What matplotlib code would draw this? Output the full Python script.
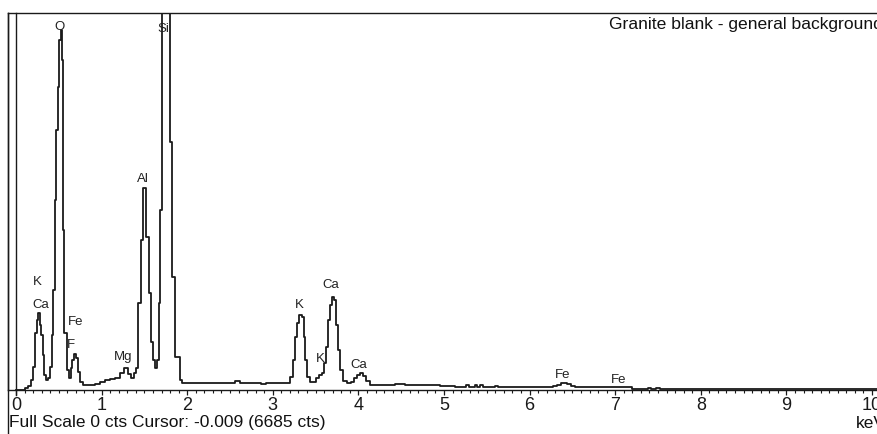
import matplotlib

matplotlib.use("Agg")
import matplotlib.pyplot as plt
from matplotlib import font_manager
from matplotlib.lines import Line2D
from matplotlib.ticker import MultipleLocator

# spectrum (keV, counts in screen units; Si runs off-scale)
energy = [
    0.00, 0.105, 0.14, 0.175, 0.199, 0.222, 0.245, 0.257, 0.275, 0.292, 0.31, 0.327,
    0.35, 0.374, 0.397, 0.415, 0.432, 0.456, 0.473, 0.49, 0.502, 0.52, 0.537, 0.549,
    0.56, 0.578, 0.596, 0.62, 0.637, 0.654, 0.678, 0.70, 0.724, 0.748, 0.78, 0.86,
    0.92, 0.98, 1.04, 1.10, 1.16, 1.215, 1.26, 1.31, 1.34, 1.38, 1.402, 1.425, 1.46,
    1.484, 1.519, 1.53, 1.554, 1.577, 1.60, 1.624, 1.647, 1.67, 1.682, 1.706, 1.73,
    1.77, 1.80, 1.822, 1.857, 1.916, 1.94, 2.50, 2.56, 2.62, 2.80, 2.86, 2.92, 3.14,
    3.20, 3.236, 3.26, 3.283, 3.306, 3.341, 3.36, 3.376, 3.40, 3.435, 3.47, 3.505,
    3.54, 3.575, 3.60, 3.62, 3.645, 3.668, 3.69, 3.715, 3.738, 3.76, 3.785, 3.82,
    3.867, 3.914, 3.95, 3.98, 4.02, 4.05, 4.09, 4.135, 4.43, 4.54, 4.95, 5.13, 5.26,
    5.29, 5.36, 5.39, 5.42, 5.45, 5.60, 5.63, 6.27, 6.32, 6.37, 6.44, 6.48, 6.53,
    7.20, 7.38, 7.42, 7.48, 7.52, 10.30,
]
counts = [
    0, 2, 4, 10, 23, 57, 70, 77, 65, 55, 35, 15,
    10, 12, 23, 55, 100, 190, 260, 303, 350, 360, 330, 160,
    57, 57, 20, 12, 22, 30, 36, 32, 18, 8, 5, 5,
    6, 8, 10, 11, 12, 17, 22, 16, 12, 17, 22, 87, 150,
    202, 153, 153, 97, 48, 30, 22, 30, 87, 180, 450, 900,
    700, 248, 113, 33, 10, 7, 7, 9, 7, 7, 6, 7, 7,
    13, 30, 53, 67, 75, 73, 53, 30, 13, 8, 8, 12,
    15, 17, 27, 43, 70, 85, 93, 90, 65, 40, 20, 9,
    7, 8, 12, 15, 17, 14, 9, 5, 6, 5, 4, 3, 5,
    3, 5, 3, 5, 3, 4, 3, 4, 5, 7, 6, 4, 3,
    1, 2, 1, 2, 1, 1,
]

# peak labels (text, keV, counts at the label baseline)
label_text = ["O", "Si", "Al", "K", "Ca", "Fe", "F", "Mg", "K", "Ca", "K", "Ca", "Fe", "Fe"]
label_energy = [0.514, 1.717, 1.48, 0.245, 0.29, 0.70, 0.645, 1.25, 3.306, 3.68, 3.56, 4.007, 6.39, 7.04]
label_counts = [360, 358, 208, 105, 82, 65, 42, 30, 82, 102, 28, 22, 12, 7]

title_text = "Granite blank - general background"
status_text = "Full Scale 0 cts Cursor: -0.009 (6685 cts)"

available = {f.name for f in font_manager.fontManager.ttflist}
narrow = "Liberation Sans Narrow" if "Liberation Sans Narrow" in available else "Liberation Sans"
plt.rcParams["font.family"] = ["Liberation Sans", "DejaVu Sans"]

W, H = 877, 434
fig = plt.figure(figsize=(W / 100, H / 100), dpi=100)

left_px, right_px, top_px, base_px = 8, 890, 13, 390
ax = fig.add_axes([left_px / W, 1 - base_px / H, (right_px - left_px) / W, (base_px - top_px) / H])

px_per_kev = 85.6
ax.set_xlim((left_px - 16) / px_per_kev, (right_px - 16) / px_per_kev)
ax.set_ylim(0, base_px - top_px)

ax.plot(energy, counts, drawstyle="steps-post", color="#1a1a1a", lw=1.3, clip_on=True)

# cursor line at 0 keV
ax.plot([0, 0], [-0.013 * 377, 377], color="#1a1a1a", lw=1.0, clip_on=False)

for txt, e, c in zip(label_text, label_energy, label_counts):
    ax.text(e, c, txt, ha="center", va="baseline", fontsize=9.5, color="#222222")

ax.text(609 / W, 1 - 24 / H, title_text, transform=fig.transFigure, ha="left", va="center",
        fontsize=12.6, color="#111111")

ax.spines["right"].set_visible(False)
for side in ["top", "left", "bottom"]:
    ax.spines[side].set_linewidth(1.0)
    ax.spines[side].set_color("#1a1a1a")

# left frame continues down through the status line
fig.add_artist(Line2D([left_px / W, left_px / W], [0, 1 - top_px / H], color="#1a1a1a", lw=1.0))

ax.set_yticks([])
ax.xaxis.set_major_locator(MultipleLocator(1))
ax.xaxis.set_minor_locator(MultipleLocator(0.1))
ax.tick_params(axis="x", which="major", direction="out", length=3.5, width=0.9, pad=1.5,
               colors="#1a1a1a", labelsize=13)
ax.tick_params(axis="x", which="minor", direction="out", length=2.5, width=0.8, colors="#1a1a1a")
ax.set_xticks(range(0, 11))
ax.set_xticklabels([str(i) for i in range(0, 11)], fontfamily=narrow)

fig.text(9 / W, 1 - 423 / H, status_text, ha="left", va="center", fontsize=12.5, fontfamily=narrow,
         color="#111111")
fig.text(856 / W, 1 - 423 / H, "keV", ha="left", va="center", fontsize=12.5, fontfamily=narrow,
         color="#111111")

fig.savefig("out.png", dpi=100)
